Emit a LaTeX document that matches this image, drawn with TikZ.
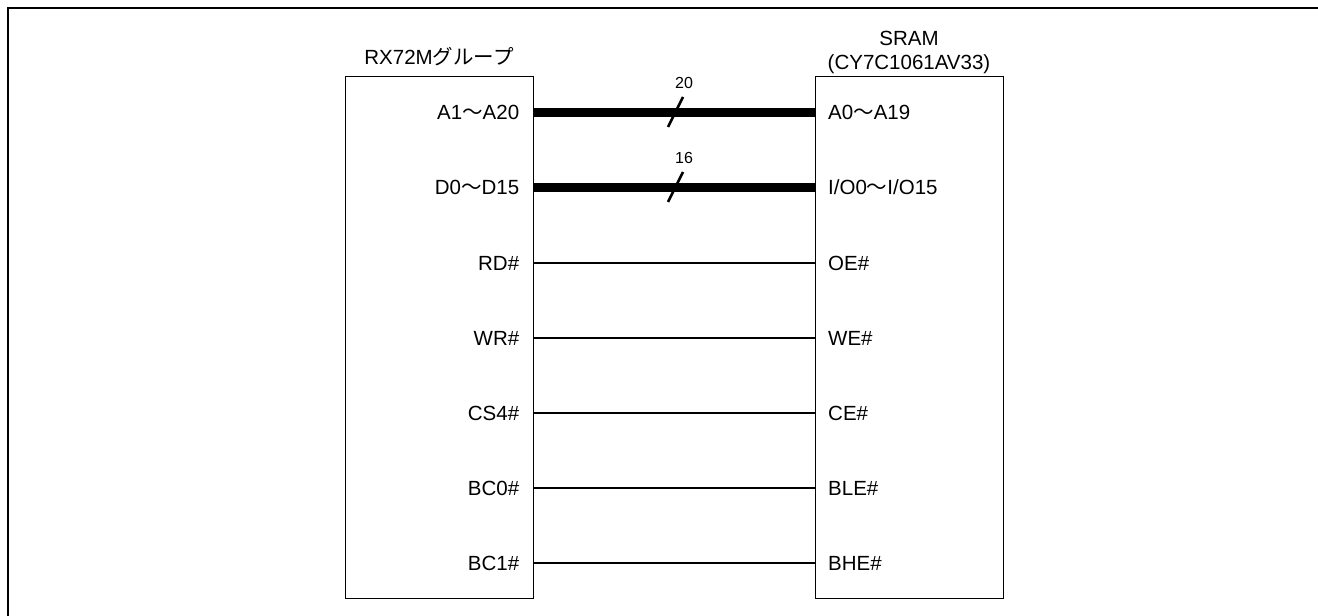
\documentclass[tikz,border=0pt]{standalone}
\usepackage{fontspec}
\setmainfont{Liberation Sans}
\newfontfamily\jpfont{Noto Sans CJK JP}
\newcommand{\wv}{{\jpfont ～}}
\begin{document}
\begin{tikzpicture}[x=1pt,y=-1pt,
  lbl/.style={font=\fontsize{20.5}{24}\selectfont, inner sep=0pt},
  chip/.style={draw, line width=1.4pt},
  bus/.style={line width=9pt},
  sig/.style={line width=1.2pt},
  slashmark/.style={line width=2.6pt}]
\useasboundingbox (0,0) rectangle (1318,616);
% outer frame
\draw[line width=2.6pt] (8,630) -- (8,8) -- (1330,8);
% chips
\node[chip, minimum width=188pt, minimum height=522pt, inner sep=0pt, anchor=north west] (mcu) at (345,76) {};
\node[chip, minimum width=188pt, minimum height=522pt, inner sep=0pt, anchor=north west] (sram) at (815,76) {};
% titles
\node[lbl, anchor=base] (mcuT) at (439,64) {RX72M{\jpfont グループ}};
\node[lbl, anchor=base] (sramT1) at (909,45) {SRAM};
\node[lbl, anchor=base] (sramT2) at (909,69) {(CY7C1061AV33)};
% pins
\foreach \n/\y in {a/112,d/187,rd/263,wr/338,cs/413,b0/488,b1/563}{
  \coordinate (L\n) at (mcu.east |- 0,\y);
  \coordinate (R\n) at (sram.west |- 0,\y);
}
% left labels
\node[lbl, anchor=base east] (la) at ([xshift=-15pt,yshift=-7pt]La) {A1\wv A20};
\node[lbl, anchor=base east] (ld) at ([xshift=-15pt,yshift=-7pt]Ld) {D0\wv D15};
\node[lbl, anchor=base east] (lrd) at ([xshift=-15pt,yshift=-7pt]Lrd) {RD\#};
\node[lbl, anchor=base east] (lwr) at ([xshift=-15pt,yshift=-7pt]Lwr) {WR\#};
\node[lbl, anchor=base east] (lcs) at ([xshift=-15pt,yshift=-7pt]Lcs) {CS4\#};
\node[lbl, anchor=base east] (lb0) at ([xshift=-15pt,yshift=-7pt]Lb0) {BC0\#};
\node[lbl, anchor=base east] (lb1) at ([xshift=-15pt,yshift=-7pt]Lb1) {BC1\#};
% right labels
\node[lbl, anchor=base west] (ra) at ([xshift=13pt,yshift=-7pt]Ra) {A0\wv A19};
\node[lbl, anchor=base west] (rd) at ([xshift=13pt,yshift=-7pt]Rd) {I/O0\wv I/O15};
\node[lbl, anchor=base west] (rrd) at ([xshift=13pt,yshift=-7pt]Rrd) {OE\#};
\node[lbl, anchor=base west] (rwr) at ([xshift=13pt,yshift=-7pt]Rwr) {WE\#};
\node[lbl, anchor=base west] (rcs) at ([xshift=13pt,yshift=-7pt]Rcs) {CE\#};
\node[lbl, anchor=base west] (rb0) at ([xshift=13pt,yshift=-7pt]Rb0) {BLE\#};
\node[lbl, anchor=base west] (rb1) at ([xshift=13pt,yshift=-7pt]Rb1) {BHE\#};
% buses
\draw[bus] (La) -- (Ra);
\draw[bus] (Ld) -- (Rd);
\foreach \n in {rd,wr,cs,b0,b1}{ \draw[sig] (L\n) -- (R\n); }
% bus width marks
\coordinate (sa1) at (668,127); \coordinate (sa2) at (683,97);
\coordinate (sd1) at (668,202); \coordinate (sd2) at (683,172);
\draw[slashmark] (sa1) -- (sa2);
\draw[slashmark] (sd1) -- (sd2);
\node[lbl, font=\fontsize{16}{18}\selectfont, anchor=base] (na) at (684,88) {20};
\node[lbl, font=\fontsize{16}{18}\selectfont, anchor=base] (nd) at (684,163) {16};
\end{tikzpicture}
\end{document}
